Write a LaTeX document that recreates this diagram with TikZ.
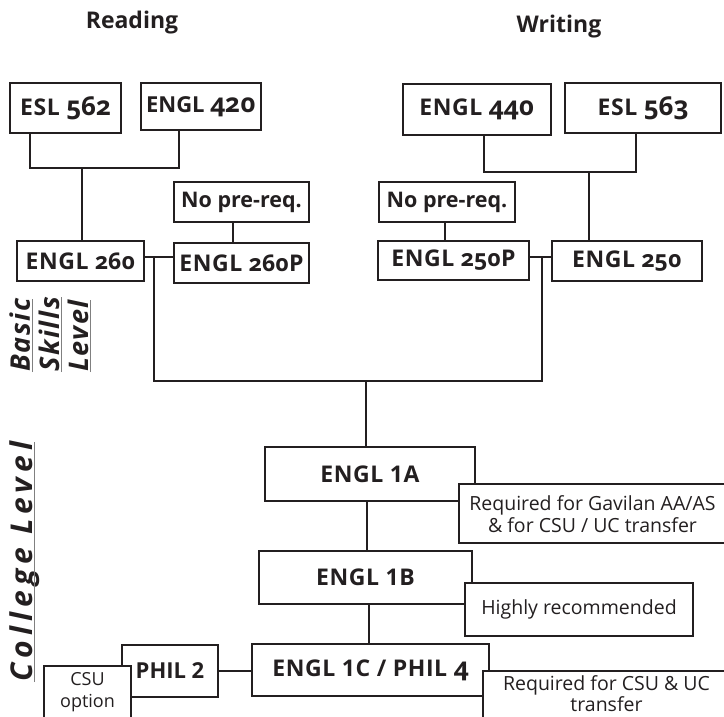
\documentclass[tikz,border=0pt]{standalone}
\usepackage{fontspec}
\setmainfont{Open Sans}
\newfontfamily\osf{Open Sans}[Numbers=OldStyle]
\definecolor{lc}{HTML}{231F20}
\definecolor{ulc}{HTML}{808080}
\newcommand\lab{\fontsize{23}{26}\selectfont\bfseries\addfontfeature{LetterSpace=2.5}}
\newcommand\bignum[1]{{\osf\fontsize{26}{26}\selectfont #1}}
\newcommand\notefont{\fontsize{19.5}{23}\selectfont}
\tikzset{
  bx/.style={draw=lc, line width=2.6pt, fill=white, inner sep=0pt, font=\lab, text=lc},
  npbx/.style={bx, font=\fontsize{21.5}{24}\selectfont\bfseries},
  tightbx/.style={bx, font=\fontsize{22}{24}\selectfont\bfseries},
  note/.style={draw=lc, line width=2.4pt, fill=white, inner sep=0pt, text=lc},
  notetext/.style={inner sep=0pt, font=\notefont, align=center, text=lc},
  ln/.style={draw=lc, line width=2.6pt},
  ul/.style={draw=ulc, line width=1.6pt},
  side/.style={rotate=90, anchor=base west, inner sep=0pt, text=lc},
  head/.style={anchor=base, inner sep=0pt, font=\fontsize{23}{26}\selectfont\bfseries, text=lc}
}
\begin{document}
\begin{tikzpicture}[x=1pt,y=-1pt]
\useasboundingbox (0,0) rectangle (724,717);
% headings
\node[head] (hr) at (132,29) {Reading};
\node[head] (hw) at (559,33) {Writing};
% top boxes
\node[bx, minimum width=111, minimum height=50] (esl562) at (65.5,108) {ESL \bignum{562}};
\node[tightbx, minimum width=120, minimum height=47] (engl420) at (201,106.5) {ENGL \bignum{420}};
\node[bx, minimum width=148, minimum height=51] (engl440) at (477,109.5) {ENGL \bignum{440}};
\node[bx, minimum width=156, minimum height=50] (esl563) at (643,108) {ESL \bignum{563}};
% no prereq
\node[npbx, minimum width=135, minimum height=40] (np1) at (241.5,202) {No pre-req.};
\node[npbx, minimum width=136, minimum height=40] (np2) at (447,202) {No pre-req.};
% level 2
\node[bx, minimum width=127, minimum height=40] (e260) at (80.5,261) {ENGL {\osf 260}};
\node[bx, minimum width=135, minimum height=40] (e260p) at (241.5,263) {ENGL {\osf 260P}};
\node[bx, minimum width=151, minimum height=39] (e250p) at (453.5,260.5) {ENGL {\osf 250P}};
\node[bx, minimum width=150, minimum height=40] (e250) at (627,261) {ENGL {\osf 250}};
% college
\node[bx, minimum width=210, minimum height=54] (e1a) at (370,474) {ENGL 1A};
\node[bx, minimum width=213, minimum height=53] (e1b) at (365.5,577.5) {ENGL 1B};
\node[bx, minimum width=237, minimum height=52] (e1c) at (370.5,670) {ENGL 1C / PHIL \bignum{4}};
\node[tightbx, minimum width=96, minimum height=52] (phil2) at (170,671) {PHIL 2};
% connectors reading
\coordinate (j1) at (82,168);
\draw[ln] ([xshift=-35.5pt]esl562.south) |- (j1) -| ([xshift=-22pt]engl420.south);
\draw[ln] (j1) -- (j1 |- e260.north);
\draw[ln] ([xshift=-8.5pt]np1.south) -- ([xshift=-8.5pt]e260p.north);
\coordinate (jl) at (154,257);
\draw[ln] ([yshift=4pt]e260.east) -- ([yshift=4pt]e260.east -| e260p.west);
% connectors writing
\coordinate (j2) at (589,172);
\draw[ln] ([xshift=7pt]engl440.south) |- (j2) -| ([xshift=-7pt]esl563.south);
\draw[ln] (j2) -- (j2 |- e250.north);
\draw[ln] ([xshift=-2pt]np2.south) -- ([xshift=-2pt]np2.south |- e250p.north);
\coordinate (jr) at (542,257);
\draw[ln] ([yshift=4pt]e250.west) -- ([yshift=4pt]e250.west -| e250p.east);
% merge
\coordinate (jm) at (366,381);
\draw[ln] (jl) |- (jm) -| (jr);
\draw[ln] (jm) -- (jm |- e1a.north);
\draw[ln] ([xshift=-3pt]e1a.south) -- ([xshift=-3pt]e1a.south |- e1b.north);
\draw[ln] ([xshift=3.5pt]e1b.south) -- ([xshift=3.5pt]e1b.south |- e1c.north);
\draw[ln] (phil2.east) -- (phil2.east -| e1c.west);
% notes
\node[note, minimum width=87, minimum height=60] (csu) at (87.5,696) {};
\node[notetext, font=\fontsize{18}{21.5}\selectfont] (csut) at (87.5,692) {CSU\\option};
\node[note, minimum width=267, minimum height=59] (n1) at (592.5,513.5) {};
\node[notetext] (n1t) at (592.5,514.5) {Required for Gavilan AA/AS\\[-1pt]\& for CSU / UC transfer};
\node[note, minimum width=228, minimum height=53] (n2) at (579,609.5) {};
\node[notetext] (n2t) at (579,609.5) {Highly recommended};
\node[note, minimum width=247, minimum height=60] (n3) at (606.5,701) {};
\node[notetext, font=\fontsize{19.5}{21}\selectfont] (n3t) at (606.5,694) {Required for CSU \& UC\\transfer};
% side labels
\node[side, font=\fontsize{27}{30}\selectfont\bfseries\itshape\addfontfeature{LetterSpace=6}] (bas) at (30,372) {Basic};
\node[side, font=\fontsize{27}{30}\selectfont\bfseries\itshape\addfontfeature{LetterSpace=6}] (skl) at (59,372) {Skills};
\node[side, font=\fontsize{27}{30}\selectfont\bfseries\itshape\addfontfeature{LetterSpace=6}] (lev) at (88,372) {Level};
\draw[ul] ([xshift=2.5pt]bas.base west) -- ([xshift=2.5pt]bas.base east);
\draw[ul] ([xshift=2.5pt]skl.base west) -- ([xshift=2.5pt]skl.base east);
\draw[ul] ([xshift=2.5pt]lev.base west) -- ([xshift=2.5pt]lev.base east);
\node[side, font=\fontsize{30}{34}\selectfont\bfseries\itshape\addfontfeature{LetterSpace=17}] (col) at (32,682) {College Level};
\draw[ul] ([xshift=2.5pt]col.base west) -- ([xshift=2.5pt]col.base east);
\end{tikzpicture}
\end{document}
